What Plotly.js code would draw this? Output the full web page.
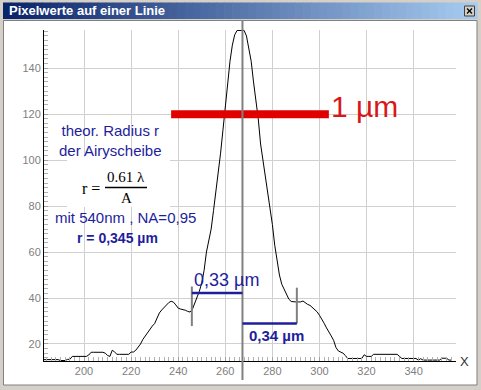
<!DOCTYPE html>
<html><head><meta charset="utf-8">
<script src="https://cdn.plot.ly/plotly-3.0.1.min.js"></script>
<style>html,body{margin:0;padding:0;background:#d4d0c8;overflow:hidden}#chart{width:481px;height:390px}</style>
</head><body><div id="chart"></div>
<script>
// ---- data ----
const pixelPos = [183,184,185,186,187,188,189,190,191,192,193,194,195,196,197,198,199,200,201,202,203,204,205,206,207,208,209,210,211,212,213,214,215,216,217,218,219,220,221,222,223,224,225,226,227,228,229,230,231,232,233,234,235,236,237,238,239,240,241,242,243,244,245,246,247,248,249,250,251,252,253,254,255,256,257,258,259,260,261,262,263,264,265,266,267,268,269,270,271,272,273,274,275,276,277,278,279,280,281,282,283,284,285,286,287,288,289,290,291,292,293,294,295,296,297,298,299,300,301,302,303,304,305,306,307,308,309,310,311,312,313,314,315,316,317,318,319,320,321,322,323,324,325,326,327,328,329,330,331,332,333,334,335,336,337,338,339,340,341,342,343,344,345,346,347,348,349,350,351,352,353,354,355,356];
const intensity = [13.2,13.2,13.2,13.2,13.2,13.2,13.2,12.8,12.8,12.8,13.3,13.3,14.6,14.6,14.6,14.6,14.6,14.6,14.6,15.2,16.4,16.4,16.4,16.4,16.4,16.4,16.0,15.0,14.6,17.3,16.5,15.5,15.5,15.5,15.5,15.5,15.5,16.5,16.5,17.3,18.5,20.0,22.0,23.5,25.0,26.5,27.8,28.9,31.5,33.5,34.8,36.0,37.2,38.0,38.6,38.2,37.0,35.6,35.2,35.0,34.7,34.2,33.9,35.0,37.7,40.0,43.0,46.5,52.0,60.0,65.0,70.0,78.0,86.0,94.0,103.0,113.0,124.0,133.0,143.0,150.0,154.5,156.4,156.4,156.4,156.4,154.0,149.0,143.0,134.0,126.0,118.0,107.0,100.0,95.0,88.0,80.0,72.0,63.0,56.0,50.0,46.0,44.0,42.0,39.5,38.5,38.3,38.3,38.3,38.3,38.7,37.8,37.2,36.8,36.0,35.0,34.0,32.5,31.0,29.0,27.0,25.5,23.5,21.6,18.5,17.0,16.5,16.0,15.0,13.7,13.7,13.7,13.7,13.7,13.7,13.7,15.3,14.6,14.6,14.6,15.5,15.5,15.5,15.5,15.5,15.5,15.5,15.5,15.5,15.5,15.5,14.6,13.7,13.7,13.7,13.7,13.7,13.7,13.7,13.0,13.6,13.0,13.0,13.0,13.0,13.0,13.0,13.0,13.0,13.8,13.8,13.8,13.0,13.0];
const xTickVals = [200,220,240,260,280,300,320,340];
const yTickVals = [20,40,60,80,100,120,140];
const windowTitle = 'Pixelwerte auf einer Linie';
const scaleBarX = [237, 304];
const scaleBarY = 120;
const scaleBarLabel = '1 µm';
const markX = [245.8, 267.3, 290.4];      // left, centre, right markers
const leftWidthY = 42.2, rightWidthY = 28.9;
const leftTickY = [27.8, 45], rightTickY = [28.9, 44.5];
const leftWidthLabel = '0,33 µm', rightWidthLabel = '0,34 µm';
const infoLines = ['theor. Radius r<br>der Airyscheibe', 'mit 540nm , NA=0,95', 'r = 0,345 µm'];

// ---- geometry helpers (pixel -> paper) ----
const W = 481, H = 390, L = 44, R = 456, T = 30, B = 361;
const px = v => (v - L) / (R - L);
const py = v => (B - v) / (B - T);

const blue = '#1e1e9c', grey = '#808080', red = '#e00000';
const shapes = [];
// window interior
shapes.push({type:'rect', xref:'paper', yref:'paper', x0:px(3.5), x1:px(477), y0:py(20.5), y1:py(385), fillcolor:'#ffffff', line:{color:'#808080', width:1}, layer:'below'});
// title bar gradient
const n = 60, c0 = [10,36,106], c1 = [166,202,240];
for (let i = 0; i < n; i++) {
  const t = i / (n - 1);
  const c = c0.map((a, k) => Math.round(a + (c1[k] - a) * t));
  const xa = 3 + (474 * i) / n, xb = 3 + (474 * (i + 1)) / n + 0.6;
  shapes.push({type:'rect', xref:'paper', yref:'paper', x0:px(xa), x1:px(xb), y0:py(19), y1:py(2.5), fillcolor:`rgb(${c[0]},${c[1]},${c[2]})`, line:{width:0}, layer:'below'});
}
// close button
shapes.push({type:'rect', xref:'paper', yref:'paper', x0:px(464.5), x1:px(474.5), y0:py(16), y1:py(6), fillcolor:'#d4d0c8', line:{color:'#404040', width:1}, layer:'above'});
shapes.push({type:'line', xref:'paper', yref:'paper', x0:px(467), x1:px(472), y0:py(8.5), y1:py(13.5), line:{color:'#000', width:1.2}, layer:'above'});
shapes.push({type:'line', xref:'paper', yref:'paper', x0:px(467), x1:px(472), y0:py(13.5), y1:py(8.5), line:{color:'#000', width:1.2}, layer:'above'});
// white box behind formula
shapes.push({type:'rect', xref:'paper', yref:'paper', x0:px(67), x1:px(170), y0:py(207), y1:py(157), fillcolor:'#ffffff', line:{width:0}, layer:'above'});
// fraction bar
shapes.push({type:'line', xref:'paper', yref:'paper', x0:px(105), x1:px(147), y0:py(187.5), y1:py(187.5), line:{color:'#000', width:1.3}, layer:'above'});
// red scale bar
shapes.push({type:'line', xref:'x', yref:'y', x0:scaleBarX[0], x1:scaleBarX[1], y0:scaleBarY, y1:scaleBarY, line:{color:red, width:8}, layer:'above'});
// grey markers
shapes.push({type:'line', xref:'x', yref:'paper', x0:markX[1], x1:markX[1], y0:py(380), y1:py(21), line:{color:grey, width:2}, layer:'above'});
shapes.push({type:'line', xref:'x', yref:'y', x0:markX[0], x1:markX[0], y0:leftTickY[0], y1:leftTickY[1], line:{color:grey, width:2}, layer:'above'});
shapes.push({type:'line', xref:'x', yref:'y', x0:markX[2], x1:markX[2], y0:rightTickY[0], y1:rightTickY[1], line:{color:grey, width:2}, layer:'above'});
// blue width bars
shapes.push({type:'line', xref:'x', yref:'y', x0:markX[0], x1:markX[1], y0:leftWidthY, y1:leftWidthY, line:{color:blue, width:2.5}, layer:'above'});
shapes.push({type:'line', xref:'x', yref:'y', x0:markX[1], x1:markX[2], y0:rightWidthY, y1:rightWidthY, line:{color:blue, width:2.5}, layer:'above'});

const sans = 'Liberation Sans, Arial, sans-serif';
const serif = 'Liberation Serif, Times New Roman, serif';
const ann = (x, y, text, font, xanchor='center', yanchor='middle') => ({xref:'paper', yref:'paper', x:px(x), y:py(y), text, showarrow:false, font, xanchor, yanchor});
const annotations = [
  ann(7, 11, '<b>' + windowTitle + '</b>', {family:sans, size:13, color:'#ffffff'}, 'left'),
  ann(110, 140, infoLines[0], {family:sans, size:15, color:blue}),
  ann(53, 217, infoLines[1], {family:sans, size:15, color:blue}, 'left'),
  ann(117, 238, '<b>' + infoLines[2] + '</b>', {family:sans, size:14, color:blue}),
  ann(91, 188, 'r =', {family:serif, size:16, color:'#000'}),
  ann(126, 177, '0.61 λ', {family:serif, size:15, color:'#000'}),
  ann(126, 198, 'A', {family:serif, size:15, color:'#000'}),
  ann(329, 107, scaleBarLabel, {family:sans, size:30, color:'#d81818'}, 'left'),
  ann(192, 280, leftWidthLabel, {family:sans, size:18, color:blue}, 'left'),
  ann(247, 335, '<b>' + rightWidthLabel + '</b>', {family:sans, size:15, color:blue}, 'left'),
  ann(464, 361, 'X', {family:sans, size:13, color:'#333'})
];

const trace = {x:pixelPos, y:intensity, type:'scatter', mode:'lines', line:{shape:'linear', color:'#000', width:1}, hoverinfo:'skip', cliponaxis:false};

const axisCommon = {showgrid:true, gridcolor:'#d0d0d0', gridwidth:1, showline:true, linecolor:'#000', linewidth:1, zeroline:false,
  ticks:'inside', ticklen:4, tickcolor:'#a0a0a0', tickfont:{family:sans, size:11, color:'#808080'}, fixedrange:true,
  minor:{dtick:2, ticks:'inside', ticklen:4, tickcolor:'#b0b0b0', showgrid:false}};

const layout = {
  width:W, height:H, margin:{l:L, r:W-R, t:T, b:H-B}, paper_bgcolor:'#d4d0c8', plot_bgcolor:'#ffffff', showlegend:false,
  xaxis:Object.assign({}, axisCommon, {range:[183,358], tickmode:'array', tickvals:xTickVals}),
  yaxis:Object.assign({}, axisCommon, {range:[12.6,156.6], tickmode:'array', tickvals:yTickVals}),
  shapes, annotations
};
layout.xaxis.minor = Object.assign({}, axisCommon.minor, {tick0:200});
layout.yaxis.minor = Object.assign({}, axisCommon.minor, {tick0:0});
Plotly.newPlot('chart', [trace], layout, {displayModeBar:false, staticPlot:true});
</script></body></html>
